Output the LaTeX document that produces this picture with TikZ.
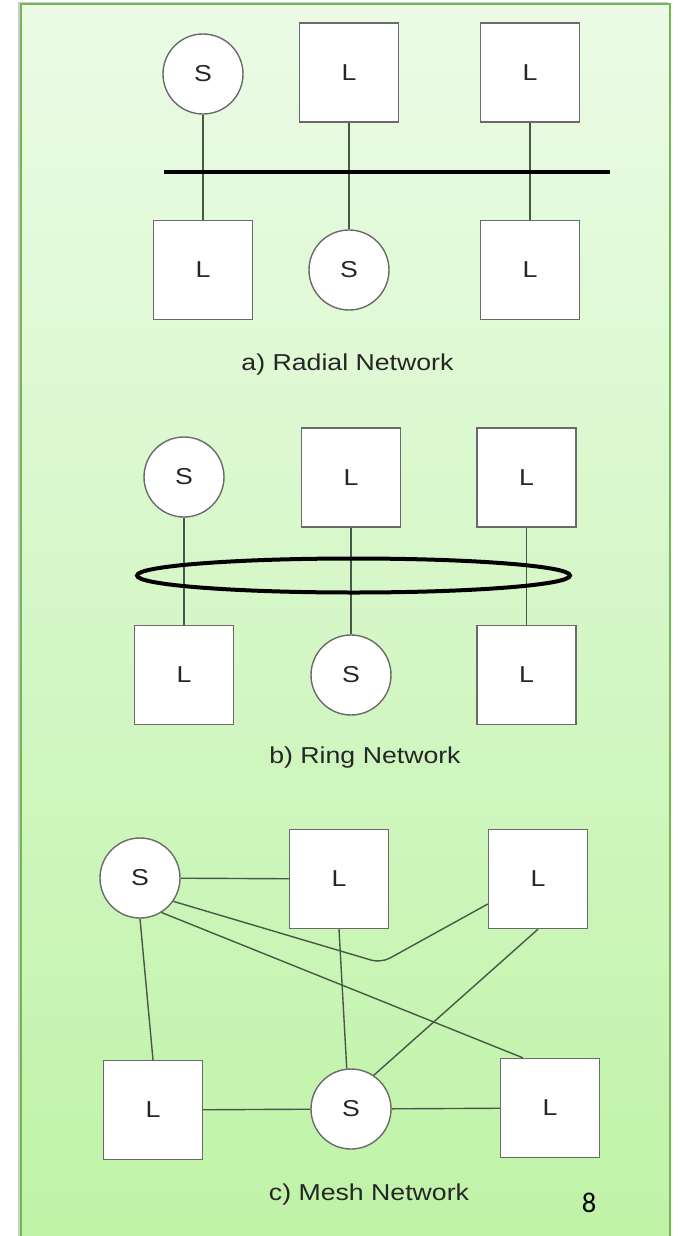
\documentclass[tikz,border=0pt]{standalone}
\usepackage{fontspec}
\setmainfont{Liberation Sans}
\newfontfamily\numfont{Carlito}
\usepackage{graphicx}
\usetikzlibrary{shapes.geometric,calc}
\definecolor{framegreen}{HTML}{72B84C}
\definecolor{bgtop}{HTML}{EBFBE6}
\definecolor{bgbot}{HTML}{BFF3A7}
\definecolor{edgegray}{HTML}{6A6A6A}
\definecolor{linegray}{HTML}{485846}
\newcommand\stretchtxt[1]{\scalebox{1.16}[1]{#1}}
\begin{document}
\begin{tikzpicture}[x=1pt,y=-1pt,
  every node/.style={font=\fontsize{23}{27}\selectfont, text=black!85},
  loadbox/.style={draw=edgegray, line width=1.4pt, fill=white, rectangle,
    minimum width=99pt, minimum height=99pt, inner sep=0pt},
  srcnode/.style={draw=edgegray, line width=1.4pt, fill=white, ellipse,
    minimum width=80pt, minimum height=80pt, inner sep=0pt},
  wire/.style={draw=linegray, line width=1.4pt},
  busline/.style={draw=black, line width=4pt},
  caption/.style={anchor=base}]
\useasboundingbox (0,0) rectangle (679,1236);
\fill[white] (0,0) rectangle (679,1236);
\fill[black!20] (17.5,2.5) rectangle (668,1236);
\shade[top color=bgtop, bottom color=bgbot] (20.5,4.5) rectangle (670,1240);
\draw[framegreen, line width=2pt] (20.5,1240) -- (20.5,4.5) -- (670,4.5) -- (670,1240);

% ---------- a) Radial ----------
\node[srcnode] (sa1) at (203,74) {\stretchtxt{S}};
\node[loadbox] (la1) at (349,72.5) {\stretchtxt{L}};
\node[loadbox] (la2) at (530,72.5) {\stretchtxt{L}};
\node[loadbox] (la3) at (203,270) {\stretchtxt{L}};
\node[srcnode] (sa2) at (349,270) {\stretchtxt{S}};
\node[loadbox] (la4) at (530,270) {\stretchtxt{L}};
\draw[wire] (sa1) -- (la3);
\draw[wire] (la1) -- (sa2);
\draw[wire] (la2) -- (la4);
\coordinate (busL) at (164,172);
\coordinate (busR) at (610,172);
\draw[busline] (busL) -- (busR);
\node[caption] (capa) at (347.5,370) {\stretchtxt{a) Radial Network}};

% ---------- b) Ring ----------
\node[srcnode] (sb1) at (184,477) {\stretchtxt{S}};
\node[loadbox] (lb1) at (351,477.5) {\stretchtxt{L}};
\node[loadbox] (lb2) at (526.5,477.5) {\stretchtxt{L}};
\node[loadbox] (lb3) at (184,675) {\stretchtxt{L}};
\node[srcnode] (sb2) at (351,675) {\stretchtxt{S}};
\node[loadbox] (lb4) at (526.5,675) {\stretchtxt{L}};
\draw[wire] (sb1) -- (lb3);
\draw[wire] (lb1) -- (sb2);
\draw[wire] (lb2) -- (lb4);
\node[draw=black, line width=4pt, ellipse, minimum width=433pt, minimum height=34pt,
  inner sep=0pt] (ring) at (353.5,575.5) {};
\node[caption] (capb) at (365,763) {\stretchtxt{b) Ring Network}};

% ---------- c) Mesh ----------
\node[srcnode] (sc1) at (140,878) {\stretchtxt{S}};
\node[loadbox] (lc1) at (339,879) {\stretchtxt{L}};
\node[loadbox] (lc2) at (538,879) {\stretchtxt{L}};
\node[loadbox] (lc3) at (153,1110) {\stretchtxt{L}};
\node[srcnode] (sc2) at (351,1109) {\stretchtxt{S}};
\node[loadbox] (lc4) at (550,1108) {\stretchtxt{L}};
\coordinate (bend) at (381,963);
\draw[wire] (sc1) -- (lc1);
\draw[wire] (sc1.south) -- (lc3.north);
\draw[wire] (lc1.south) -- (sc2.96);
\draw[wire] (lc2.south) -- (sc2.56);
\draw[wire, rounded corners=10pt] (sc1.-35) -- (bend) -- ([yshift=-25pt]lc2.west);
\draw[wire] (sc1.-58) -- ([xshift=23pt]lc4.north west);
\draw[wire] (sc2) -- (lc3);
\draw[wire] (sc2) -- (lc4);
\node[caption] (capc) at (369,1200) {\stretchtxt{c) Mesh Network}};
\node[anchor=base, font=\numfont\fontsize{28.5}{30}\selectfont, text=black] (pagenum) at (589,1212) {8};
\end{tikzpicture}
\end{document}
